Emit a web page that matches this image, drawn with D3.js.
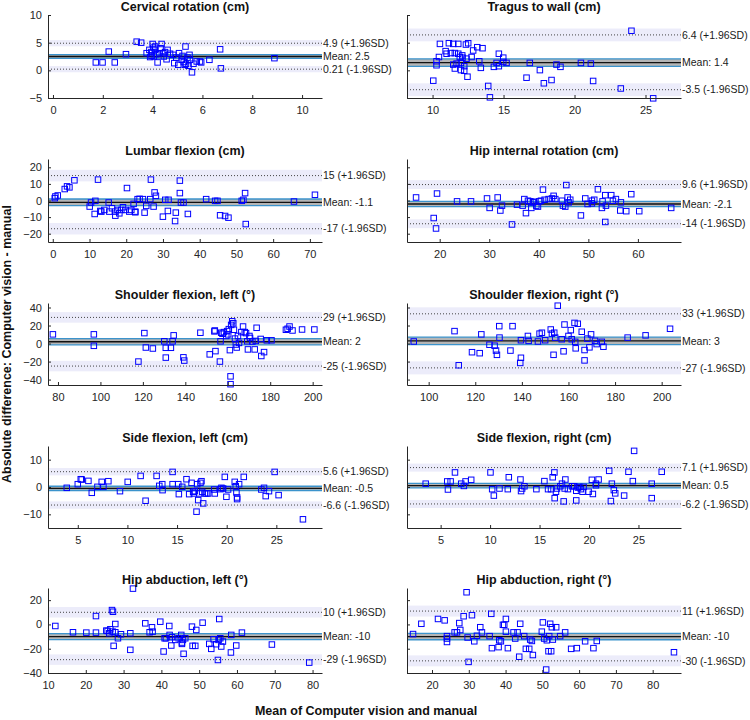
<!DOCTYPE html>
<html>
<head>
<meta charset="utf-8">
<script src="https://cdn.jsdelivr.net/npm/d3@7"></script>
<style>
    body { margin: 0; background: #fff; }
    text { font-family: Arial, "Liberation Sans", sans-serif; }
</style>
</head>
<body>
<div id="chart"></div>
<script>

// panel titles, in reading order (left, right, next row ...)
const titles = [
    "Cervical rotation (cm)", "Tragus to wall (cm)",
    "Lumbar flexion (cm)", "Hip internal rotation (cm)",
    "Shoulder flexion, left (°)", "Shoulder flexion, right (°)",
    "Side flexion, left (cm)", "Side flexion, right (cm)",
    "Hip abduction, left (°)", "Hip abduction, right (°)"
];

// reported bias and limits of agreement
const meanVals  = [2.5, 1.4, -1.1, -2.1, 2, 3, -0.5, 0.5, -10, -10];
const upperVals = [4.9, 6.4, 15, 9.6, 29, 33, 5.6, 7.1, 10, 11];
const lowerVals = [0.21, -3.5, -17, -14, -25, -27, -6.6, -6.2, -29, -30];

// axis limits and ticks
const xDomains = [
    [-0.2, 10.8], [8.2, 27.5],
    [-1.3, 73.3], [13.4, 68.7],
    [75.3, 204.4], [90.7, 208.3],
    [2.0, 29.6], [1.6, 29.3],
    [10, 82.5], [13.2, 87.7]
];
const xTicks = [
    [0, 2, 4, 6, 8, 10], [10, 15, 20, 25],
    [0, 10, 20, 30, 40, 50, 60, 70], [20, 30, 40, 50, 60],
    [80, 100, 120, 140, 160, 180, 200], [100, 120, 140, 160, 180, 200],
    [5, 10, 15, 20, 25], [5, 10, 15, 20, 25],
    [10, 20, 30, 40, 50, 60, 70, 80], [20, 30, 40, 50, 60, 70, 80]
];
const rowYDomains = [[-5, 10], [-25, 25], [-46, 45], [-15, 15], [-40, 30]];
const rowYTicks = [[-5, 0, 5, 10], [-20, -10, 0, 10, 20], [-40, -20, 0, 20, 40], [-10, 0, 10], [-40, -20, 0, 20]];

// [mean of both methods, difference]
const cervicalPts = [
    [1.72,1.43],[1.99,1.43],[2.48,1.43],[2.24,3.39],[2.93,2.92],[3.36,5.18],[3.54,5.0],[3.76,3.1],
    [3.87,3.7],[3.96,2.62],[4.0,4.76],[4.03,4.1],[4.1,3.7],[4.2,1.43],[4.27,3.1],[4.36,4.76],
    [4.32,4.0],[4.43,3.1],[4.56,2.0],[4.6,3.7],[4.7,3.0],[4.83,2.8],[4.87,1.3],[5.03,1.0],
    [5.06,3.1],[5.17,1.9],[5.32,4.3],[5.34,1.2],[5.44,0.83],[5.48,2.8],[5.5,1.9],[5.58,-0.36],
    [5.64,1.2],[5.77,1.6],[5.9,1.6],[5.95,1.43],[6.28,1.9],[6.71,3.8],[6.74,0.36],[8.89,2.2],
    [3.9,2.4],[4.05,2.5],[4.15,2.9],[4.45,2.5],[4.5,3.3],[4.95,2.3],[5.2,2.6],[5.25,1.5],
    [5.4,2.3],[5.3,1.0],[4.1,4.3],[3.95,3.3]
];
const tragusPts = [
    [10.52,4.78],[11.15,4.9],[11.46,4.78],[11.81,4.78],[12.35,4.66],[12.51,4.9],[13.15,4.18],[13.52,4.0],
    [10.92,3.47],[10.99,3.0],[11.29,3.12],[11.57,3.12],[11.81,3.0],[12.09,2.7],[12.86,3.59],[14.67,3.0],
    [10.45,2.41],[11.92,2.41],[12.11,2.29],[12.39,2.11],[12.75,2.41],[14.98,2.29],
    [10.28,1.64],[10.28,0.92],[11.46,1.04],[11.69,1.22],[12.0,1.34],[12.23,0.75],[13.29,1.64],[13.4,0.45],
    [14.32,0.63],[14.51,1.34],[14.67,0.75],[14.98,1.52],[15.21,1.34],[16.85,1.34],[18.73,1.04],[19.01,0.63],
    [20.45,1.34],[21.15,1.22],[11.57,0.33],[12.0,0.04],[12.23,-0.08],[12.46,-1.15],[17.56,0.04],[17.84,-2.34],
    [18.38,-1.75],[16.62,-1.33],[10.05,-1.87],[13.92,-2.82],[21.31,-1.92],[23.26,-3.28],[14.04,-4.88],
    [25.54,-5.06],[24.01,7.15]
];
const lumbarPts = [
    [0.54,1.42],[0.72,2.43],[1.36,3.04],[3.26,6.9],[3.89,8.52],[4.53,7.91],[5.89,12.17],[12.32,12.58],
    [10.05,-3.65],[10.42,-1.22],[11.59,-0.2],[11.41,-8.11],[12.95,-6.29],[13.22,-6.69],[14.04,-5.68],[15.22,-1.22],
    [15.4,-6.69],[16.12,-4.67],[17.03,-6.69],[17.03,-9.13],[17.66,-5.68],[18.12,-7.71],[18.66,-5.68],[19.11,-4.06],
    [19.75,-5.68],[20.2,7.5],[20.83,-6.69],[21.38,-5.68],[22.01,-2.03],[22.46,-6.69],[22.46,-7.1],[23.1,0.81],
    [23.64,1.01],[24.55,0.81],[25.0,-7.3],[25.45,-3.25],[26.54,0.81],[26.72,12.58],[27.45,-3.65],[27.72,4.87],
    [28.08,2.84],[29.98,-9.74],[30.62,0.41],[31.34,-6.29],[31.52,0.41],[33.3,-12.37],[33.5,-7.3],[34.6,11.97],
    [34.6,4.46],[34.9,-1.22],[35.6,-1.22],[36.78,-8.11],[41.76,0.81],[44.2,-0.2],[44.84,-0.2],[45.56,-8.92],
    [46.92,-9.33],[47.83,-10.34],[51.45,-0.2],[51.9,0.41],[52.36,4.46],[52.54,-14.2],[65.67,-0.61],[71.38,3.45]
];
const hipIntPts = [
    [15.23,1.83],[19.46,4.19],[18.79,-10.56],[19.26,-16.85],[23.5,-0.53],[26.32,-0.53],[29.55,1.24],[30.08,-4.46],
    [31.7,1.83],[32.24,-6.04],[32.57,-3.09],[34.59,-14.43],[35.6,-2.5],[36.74,-3.09],[37.08,0.85],[37.41,-7.61],
    [37.82,-0.14],[38.29,-0.53],[38.49,-4.46],[38.82,-1.12],[39.09,-0.73],[39.5,-3.09],[39.83,-3.68],[40.1,-0.53],
    [40.44,-0.14],[40.84,6.55],[41.18,0.45],[41.98,0.85],[42.66,1.24],[42.99,2.81],[43.33,0.85],[44.67,-0.14],
    [44.87,-3.09],[45.34,-3.68],[45.55,9.3],[45.82,1.83],[46.02,-1.12],[46.35,0.45],[48.5,-9.0],[49.38,1.24],
    [49.85,-2.1],[50.72,-0.14],[51.19,0.45],[50.72,-1.71],[51.93,6.75],[52.74,-4.46],[52.87,-0.53],[53.41,3.21],
    [53.41,-12.92],[53.55,-3.09],[54.62,3.21],[54.96,-0.14],[55.56,0.85],[56.44,-6.04],[56.57,-1.12],[57.65,-6.43],
    [58.66,3.8],[60.27,-6.43],[66.72,-4.46]
];
const shoulderLeftPts = [
    [77.6,10.2],[96.9,10.2],[96.9,-2.5],[117.9,-20],[120.7,11.6],[121.4,-4.4],[124.7,-5.5],[130.1,2.5],
    [130.8,-4.7],[130.8,-15.6],[133.2,-4.7],[134.0,2.5],[134.5,9.1],[139.1,-15.3],[139.5,-18.9],[147.1,12],
    [151.5,-12],[153.7,13.5],[153.9,14.5],[154.2,-8.4],[156.3,-20],[156.6,2.5],[156.9,12],[157.5,10.9],
    [158.2,12.7],[159.3,8.4],[159.7,13.8],[160.2,10.2],[160.5,16],[161.0,-7.3],[161.3,-36.4],[161.3,-45.1],
    [161.6,20.7],[162.1,24.7],[162.6,22.5],[162.9,15.3],[163.4,5.5],[163.8,-1.1],[164.2,-4.4],[164.8,8.4],
    [165.3,0.7],[166.4,12.7],[167.2,18.9],[168.0,12.7],[168.6,11.6],[169.2,2.5],[169.5,-6.5],[170.2,8.4],
    [170.5,6.2],[171.6,2.2],[172.7,-6.5],[173.2,2.9],[173.6,17.5],[175.5,5.1],[175.8,-13.8],[177.1,-9.5],
    [178.4,3.6],[180.6,3.6],[187.4,15.3],[188.2,16.4],[189.1,18.9],[190.5,14.5],[195.0,15.6],[200.8,15.6]
];
const shoulderRightPts = [
    [93.6,2.3],[111.1,13.8],[112.9,-24.1],[118.6,-9.6],[121.9,-10.7],[122.6,10.2],[126.1,-1.3],[128.3,-2.4],
    [128.9,-7.8],[129.3,-12.5],[130.3,19.3],[130.4,6.6],[135.1,-7.8],[136,19.3],[139.6,3.7],[139.6,-15.8],
    [139.3,-21.5],[142.6,8.4],[142.9,3.0],[146.9,2.3],[147.6,11.0],[148.6,12.0],[150,3.7],[152.4,15.6],
    [152.9,11.0],[153.9,12.0],[153.6,-12.5],[154.3,6.6],[155.4,42.0],[157.1,4.8],[157.9,-8.6],[158.3,21.1],
    [160,8.4],[161,14.9],[161.4,4.8],[162.6,22.9],[162.9,1.9],[163.1,-5.3],[164,22.0],[165.7,13.1],
    [166.9,-7.2],[166.9,-18.7],[168.1,5.5],[169,-4.2],[169.7,10.2],[171.4,3.0],[172.1,-0.6],[174.3,1.9],
    [175,-3.5],[185.4,6.6],[193.1,9.1],[203.6,16.4]
];
const sideLeftPts = [
    [3.89,-0.3],[5,1.03],[5.3,2.85],[5.4,2.73],[6.07,2.24],[6.41,-2.12],[6.98,0.06],[7.41,1.88],
    [7.58,0.06],[8.08,2.12],[9.25,-1.52],[10.03,1.88],[11.33,4.06],[11.83,-5.03],[12.94,4.06],[13.21,0.42],
    [13.51,1.03],[13.54,-1.15],[14.55,5.52],[14.55,1.03],[15.12,1.03],[15.18,-2.61],[15.52,0.06],[15.95,2.85],
    [16.22,-2.61],[16.46,1.52],[16.62,-1.76],[16.69,-2.36],[16.79,-1.52],[16.96,-9.03],[17.03,1.03],[17.13,-4.79],
    [17.23,-2.36],[17.36,1.52],[17.46,2.12],[17.53,-1.76],[17.63,-6.0],[17.8,-2.36],[17.96,-2.36],[18.13,-2.36],
    [18.74,-0.91],[18.8,-2.36],[19.37,-0.79],[19.47,-0.3],[19.64,-0.55],[19.81,3.7],[19.97,-3.58],[20.14,-0.91],
    [20.81,1.88],[20.91,0.3],[20.98,-2.0],[21.05,-3.82],[21.05,-4.42],[21.25,1.03],[21.72,3.7],[23.49,-0.91],
    [23.76,-0.3],[23.93,-3.33],[24.26,-1.52],[24.83,5.52],[25.23,-2.97],[27.68,-11.82]
];
const sideRightPts = [
    [3.49,1.21],[5.67,2.04],[5.74,-0.91],[6.01,2.04],[6.45,5.33],[7.08,1.21],[7.35,0.39],[7.52,2.04],
    [8.09,2.63],[10.04,5.33],[10.21,-0.79],[10.38,-3.14],[10.95,-0.55],[11.79,-0.79],[11.89,3.57],[13.07,2.74],
    [13.13,-1.49],[13.24,-0.55],[13.47,0.27],[14.68,-0.79],[15.49,2.15],[15.86,-0.79],[16.16,-0.79],[16.33,3.57],
    [16.5,5.33],[16.53,-4.08],[16.66,-1.73],[16.76,-0.55],[17.1,0.27],[17.27,1.21],[17.44,-5.26],[17.54,-0.55],
    [17.61,2.74],[17.87,-0.79],[18.28,0.27],[18.51,0.27],[18.71,-4.91],[18.71,-1.38],[18.88,-0.2],[19.02,0.04],
    [19.18,-0.79],[19.35,-1.73],[19.45,0.04],[19.96,-1.73],[20.29,2.63],[20.39,-2.55],[20.7,0.62],[20.7,1.21],
    [20.97,2.74],[22.04,5.92],[22.21,-5.14],[22.31,1.21],[22.51,-1.14],[22.65,-2.32],[23.55,-3.14],[23.99,5.57],
    [24.43,2.15],[24.56,13.22],[26.34,1.21],[26.34,-4.08],[27.35,5.57]
];
const hipAbdLeftPts = [
    [11.94,-1.28],[16.61,-6.46],[20.14,-6.74],[22.69,6.9],[22.69,-6.74],[25.43,-5.1],[25.78,-5.37],[26.22,-7.28],
    [26.49,-4.01],[26.93,11.81],[27.1,-5.92],[27.19,10.45],[27.37,-17.64],[27.81,0.35],[27.81,-6.46],[28.51,-11.37],
    [29.31,-8.1],[31.78,-7.28],[31.78,-20.92],[32.48,29.5],[35.74,0.9],[36.89,-6.46],[37.51,-2.37],[37.68,-5.92],
    [39.71,2.26],[40.59,-22.28],[40.86,-11.37],[41.21,-11.37],[42.09,-1.28],[42.18,-8.64],[42.62,-17.37],[42.8,-10.55],
    [43.68,-12.74],[44.56,-11.37],[45.26,-8.64],[45.44,-14.92],[45.44,-16.01],[45.7,-12.74],[45.88,-24.19],[46.32,-11.37],
    [48.09,-1.83],[48.26,-17.64],[48.97,-17.64],[49.23,-4.55],[50.91,1.45],[52.67,-16.01],[53.2,-20.1],[53.82,-12.19],
    [54.52,-16.28],[54.96,-29.27],[55.31,4.45],[55.14,-12.74],[55.58,-11.37],[55.84,-18.18],[56.28,-14.1],[58.4,-23.1],
    [58.49,-8.64],[59.81,-17.37],[61.31,-6.74],[69.24,-16.56],[79.12,-31.45]
];
const hipAbdRightPts = [
    [14.84,-7.94],[17.1,0.54],[21.63,4.5],[23.44,3.36],[24.07,-9.64],[24.07,-11.62],[24.07,-14.45],[26.15,-6.53],
    [26.79,-6.53],[27.42,1.1],[27.69,-4.58],[28.6,6.76],[29.68,-10.77],[29.95,-30.84],[29.4,26.5],[30.86,7.61],
    [31.49,-13.88],[32.22,-9.36],[33.12,-2.3],[33.57,-6.53],[35.66,-9.64],[36.11,8.74],[36.29,-19.54],[38.1,-18.69],
    [38.28,-13.03],[38.73,-13.88],[39.28,-0.31],[39.64,-0.31],[40.09,4.5],[40.09,-5.96],[40.63,-19.54],[42.17,-6.53],
    [42.62,-11.62],[43.26,-6.53],[43.71,-26.6],[43.98,0.54],[45.07,-9.64],[45.52,-20.1],[46.43,-20.1],[46.7,-12.47],
    [47.15,-13.6],[47.42,-25.19],[49.86,-5.96],[50.14,1.67],[50.5,-11.62],[51.04,-37.17],[51.22,-13.03],[51.67,-22.07],
    [51.86,-9.64],[52.13,0.54],[52.4,-22.07],[52.58,-2.3],[52.85,-12.47],[53.76,-2.3],[54.84,-9.64],[56.2,-6.53],
    [57.83,-20.1],[59.37,-19.54],[61.63,-13.88],[63.89,-19.54],[64.8,-13.6],[85.79,-22.9]
];

const allPts = [
    cervicalPts, tragusPts, lumbarPts, hipIntPts, shoulderLeftPts,
    shoulderRightPts, sideLeftPts, sideRightPts, hipAbdLeftPts, hipAbdRightPts
];


class BlandAltmanPanel {

    constructor(svg, box, index) {

        // plot area in pixels
        this.box = box;
        this.index = index;
        this.row = Math.floor(index / 2);
        this.isRight = index % 2 === 1;

        this.g = svg.append('g');

        // the scales
        this.x = d3.scaleLinear()
        .domain(xDomains[index])
        .range([box.left, box.right]);

        this.y = d3.scaleLinear()
        .domain(rowYDomains[this.row])
        .range([box.bottom, box.top]);
    }

    drawBands() {

        let mean = meanVals[this.index];
        let upper = upperVals[this.index];
        let lower = lowerVals[this.index];
        let n = allPts[this.index].length;

        // CI widths from the reported SD
        let sd = (upper - lower) / 3.92;
        let meanCI = 1.96 * sd / Math.sqrt(n);
        let loaCI = 1.96 * sd * Math.sqrt(3 / n);

        let [x0, x1] = this.x.range();

        // lavender bands around the limits of agreement
        [upper, lower].forEach(v => {
            this.g.append('rect')
            .attr('x', x0)
            .attr('width', x1 - x0)
            .attr('y', this.y(v + loaCI))
            .attr('height', this.y(v - loaCI) - this.y(v + loaCI))
            .attr('fill', '#ececfa');
        });

        // grey band around the mean
        this.g.append('rect')
        .attr('x', x0)
        .attr('width', x1 - x0)
        .attr('y', this.y(mean + meanCI))
        .attr('height', this.y(mean - meanCI) - this.y(mean + meanCI))
        .attr('fill', '#b5b5b5');

        // dotted limits
        [upper, lower].forEach(v => {
            this.g.append('line')
            .attr('x1', x0).attr('x2', x1)
            .attr('y1', this.y(v)).attr('y2', this.y(v))
            .attr('stroke', '#444')
            .attr('stroke-width', 1)
            .attr('stroke-dasharray', '1,2');
        });

        // CI lines of the mean
        [mean + meanCI, mean - meanCI].forEach(v => {
            this.g.append('line')
            .attr('x1', x0).attr('x2', x1)
            .attr('y1', this.y(v)).attr('y2', this.y(v))
            .attr('stroke', '#3b93cc')
            .attr('stroke-width', 1.3);
        });

        this.g.append('line')
        .attr('x1', x0).attr('x2', x1)
        .attr('y1', this.y(mean)).attr('y2', this.y(mean))
        .attr('stroke', '#111')
        .attr('stroke-width', 1.3);

        // labels on the right
        let labels = [
            [upper, upper + ' (+1.96SD)'],
            [mean, 'Mean: ' + mean],
            [lower, lower + ' (-1.96SD)']
        ];
        this.g.selectAll('text.lab')
        .data(labels)
        .join('text')
        .attr('class', 'lab')
        .attr('x', x1 + 1)
        .attr('y', d => this.y(d[0]))
        .attr('dy', '0.35em')
        .attr('font-size', 10.5)
        .attr('fill', '#1a1a1a')
        .text(d => d[1]);
    }

    drawPoints() {

        let s = 5.5;
        this.g.selectAll('rect.pt')
        .data(allPts[this.index])
        .join('rect')
        .attr('class', 'pt')
        .attr('x', d => this.x(d[0]) - s / 2)
        .attr('y', d => this.y(d[1]) - s / 2)
        .attr('width', s)
        .attr('height', s)
        .attr('fill', 'none')
        .attr('stroke', '#0000ff')
        .attr('stroke-width', 1);
    }

    drawAxes() {

        let box = this.box;

        // x axis, ticks pointing inward
        let xAxis = d3.axisBottom(this.x)
        .tickValues(xTicks[this.index])
        .tickSizeInner(-3)
        .tickSizeOuter(0)
        .tickPadding(8);

        let gx = this.g.append('g')
        .attr('transform', `translate(0,${box.bottom})`)
        .call(xAxis);
        gx.select('.domain').attr('stroke', '#262626');
        gx.selectAll('.tick line').attr('stroke', '#262626');
        gx.selectAll('.tick text')
        .attr('font-size', 11)
        .attr('font-family', 'Arial, "Liberation Sans", sans-serif')
        .attr('fill', '#262626');

        // y axis
        let yAxis = d3.axisLeft(this.y)
        .tickValues(rowYTicks[this.row])
        .tickSizeInner(-3)
        .tickSizeOuter(0)
        .tickPadding(6);

        let gy = this.g.append('g')
        .attr('transform', `translate(${box.left},0)`)
        .call(yAxis);
        gy.select('.domain').attr('stroke', '#262626');
        gy.selectAll('.tick line').attr('stroke', '#262626');
        gy.selectAll('.tick text')
        .attr('font-size', 11)
        .attr('font-family', 'Arial, "Liberation Sans", sans-serif')
        .attr('fill', '#262626');

        // right column shares the row limits: no tick labels
        if (this.isRight) {
            gy.selectAll('.tick text').remove();
        }

        // title
        this.g.append('text')
        .attr('x', (box.left + box.right) / 2)
        .attr('y', box.top - 4)
        .attr('text-anchor', 'middle')
        .attr('font-size', 12.5)
        .attr('font-weight', 'bold')
        .attr('fill', '#111')
        .text(titles[this.index]);
    }
}


const width = 750;
const height = 720;

const svg = d3.select('#chart')
.append('svg')
.attr('width', width)
.attr('height', height);

// plot area positions
const colLeft = [48, 407];
const colRight = [322, 681];
const rowTop = [15, 159, 303, 446, 588];
const rowBottom = [98, 242, 385, 528, 673];

titles.forEach((t, i) => {
    let r = Math.floor(i / 2);
    let c = i % 2;
    let panel = new BlandAltmanPanel(svg, {
        left: colLeft[c], right: colRight[c], top: rowTop[r], bottom: rowBottom[r]
    }, i);
    panel.drawBands();
    panel.drawPoints();
    panel.drawAxes();
});

// shared axis labels
svg.append('text')
.attr('transform', 'translate(11,344) rotate(-90)')
.attr('text-anchor', 'middle')
.attr('font-size', 12.5)
.attr('font-weight', 'bold')
.attr('fill', '#111')
.text('Absolute difference: Computer vision - manual');

svg.append('text')
.attr('x', 366)
.attr('y', 715)
.attr('text-anchor', 'middle')
.attr('font-size', 12.5)
.attr('font-weight', 'bold')
.attr('fill', '#111')
.text('Mean of Computer vision and manual');

</script>
</body>
</html>
